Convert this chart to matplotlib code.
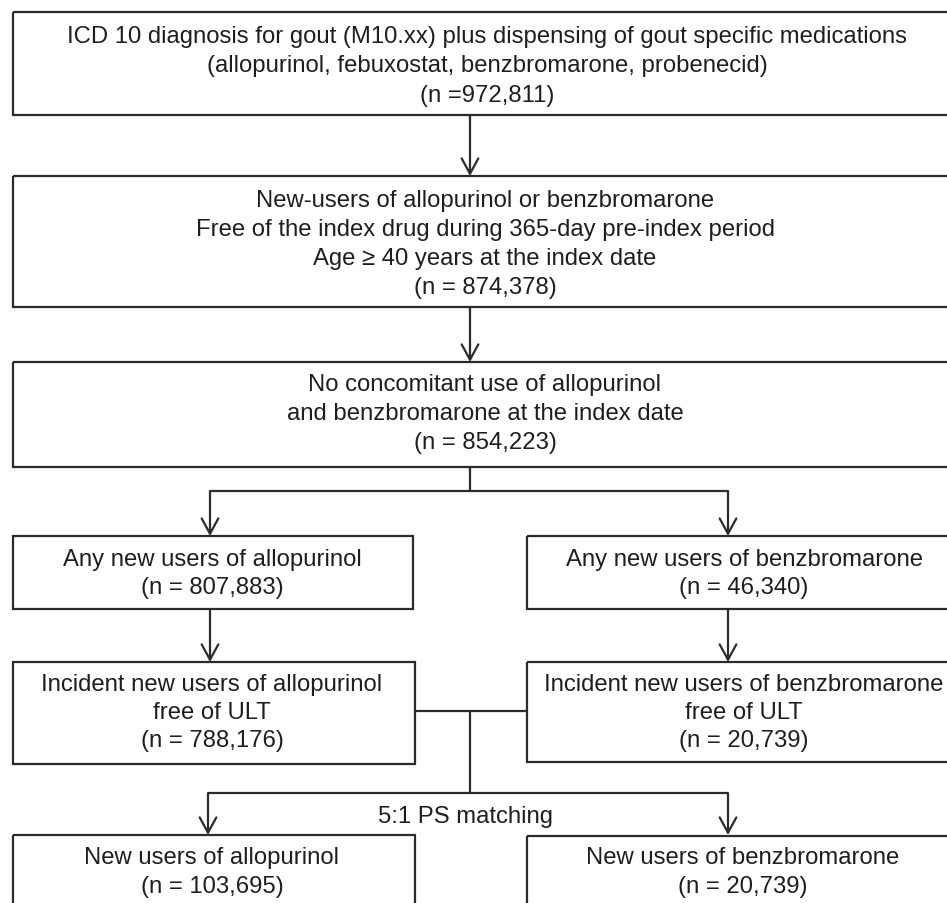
import matplotlib
matplotlib.use("Agg")
import matplotlib.pyplot as plt
from matplotlib.patches import Rectangle

# ---- content ----
box1_lines = ["ICD 10 diagnosis for gout (M10.xx) plus dispensing of gout specific medications",
              "(allopurinol, febuxostat, benzbromarone, probenecid)",
              "(n =972,811)"]
box2_lines = ["New-users of allopurinol or benzbromarone",
              "Free of the index drug during 365-day pre-index period",
              "Age \u2265 40 years at the index date",
              "(n = 874,378)"]
box3_lines = ["No concomitant use of allopurinol",
              "and benzbromarone at the index date",
              "(n = 854,223)"]
box4L_lines = ["Any new users of allopurinol", "(n = 807,883)"]
box4R_lines = ["Any new users of benzbromarone", "(n = 46,340)"]
box5L_lines = ["Incident new users of allopurinol", "free of ULT", "(n = 788,176)"]
box5R_lines = ["Incident new users of benzbromarone", "free of ULT", "(n = 20,739)"]
box6L_lines = ["New users of allopurinol", "(n = 103,695)"]
box6R_lines = ["New users of benzbromarone", "(n = 20,739)"]
matching_label = "5:1 PS matching"

# ---- style ----
LC = "#2b2b2b"
TC = "#1e1e1e"
LW = 1.6
FS = 17.2
FONT = ["Liberation Sans", "Arial", "DejaVu Sans"]

fig = plt.figure(figsize=(9.47, 9.04), dpi=100)
ax = fig.add_axes([0, 0, 1, 1])
ax.set_xlim(0, 947)
ax.set_ylim(904, 0)
ax.axis("off")


def box(x0, y0, x1, y1):
    ax.add_patch(Rectangle((x0, y0), x1 - x0, y1 - y0, fill=False,
                           edgecolor=LC, lw=LW))


def lines(cx, ys, texts):
    for y, t in zip(ys, texts):
        ax.text(cx, y, t, ha="center", va="center", fontsize=FS,
                color=TC, family=FONT)


def arrow(x, y0, y1):
    ax.annotate("", xy=(x, y1), xytext=(x, y0),
                arrowprops=dict(arrowstyle="->,head_length=0.55,head_width=0.3",
                                lw=LW, color=LC, shrinkA=0, shrinkB=0,
                                mutation_scale=20))


def seg(xs, ys):
    ax.plot(xs, ys, color=LC, lw=LW, solid_capstyle="butt")


L0, L1 = 12.5, 415
R0, R1 = 527, 961
W1 = 961
xc, xl, xr = 470, 210, 728

# top boxes
box(L0, 13, W1, 116)
lines(487, [37, 66, 96], box1_lines)
arrow(xc, 116, 177)

box(L0, 177, W1, 308)
lines(485, [201, 230, 259, 288], box2_lines)
arrow(xc, 308, 363)

box(L0, 363, W1, 468)
lines(485, [385, 414, 443], box3_lines)

# split
seg([xc, xc], [468, 492])
seg([xl, xr], [492, 492])
arrow(xl, 492, 537)
arrow(xr, 492, 537)

box(L0, 537, 413, 610)
lines(212, [560, 588], box4L_lines)
box(R0, 537, R1, 610)
lines(744, [560, 588], box4R_lines)

arrow(xl, 610, 663)
arrow(xr, 610, 663)

box(L0, 663, L1, 765)
lines(212, [685, 713, 741], box5L_lines)
box(R0, 663, R1, 763)
lines(744, [685, 713, 741], box5R_lines)

# merge for matching
seg([L1, R0], [712, 712])
seg([xc, xc], [712, 794])
seg([208, xr], [794, 794])
arrow(208, 794, 836)
arrow(xr, 794, 836)
ax.text(465, 817, matching_label, ha="center", va="center", fontsize=FS,
        color=TC, family=FONT)

box(L0, 836, L1, 960)
lines(212, [858, 887], box6L_lines)
box(R0, 837, R1, 960)
lines(743, [858, 887], box6R_lines)

fig.savefig("out.png", dpi=100, facecolor="white")
